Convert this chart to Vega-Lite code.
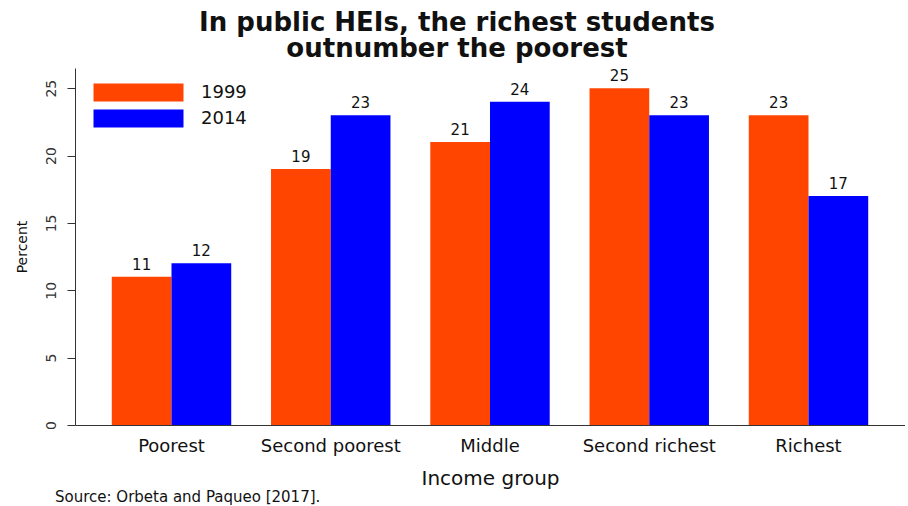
{
  "$schema": "https://vega.github.io/schema/vega-lite/v6.json",
  "background": "white",
  "padding": {"left": 15, "top": 10, "right": 0, "bottom": 2},
  "title": {"text": "Source: Orbeta and Paqueo [2017].", "orient": "bottom", "anchor": "start", "frame": "group", "fontSize": 15, "font": "DejaVu Sans", "fontWeight": "normal", "color": "#111", "offset": 2, "dx": -20},
  "vconcat": [
    {
      "width": 830,
      "height": 357,
      "title": {"text": ["In public HEIs, the richest students", "outnumber the poorest"], "fontSize": 26, "font": "DejaVu Sans", "fontWeight": "bold", "lineHeight": 26, "dx": -33, "offset": 6, "color": "#111"},
      "data": {"values": [
        {"group": "Poorest", "year": "1999", "percent": 11},
        {"group": "Poorest", "year": "2014", "percent": 12},
        {"group": "Second poorest", "year": "1999", "percent": 19},
        {"group": "Second poorest", "year": "2014", "percent": 23},
        {"group": "Middle", "year": "1999", "percent": 21},
        {"group": "Middle", "year": "2014", "percent": 24},
        {"group": "Second richest", "year": "1999", "percent": 25},
        {"group": "Second richest", "year": "2014", "percent": 23},
        {"group": "Richest", "year": "1999", "percent": 23},
        {"group": "Richest", "year": "2014", "percent": 17}
      ]},
      "encoding": {
        "x": {
          "field": "group", "type": "nominal",
          "sort": ["Poorest", "Second poorest", "Middle", "Second richest", "Richest"],
          "scale": {"paddingInner": 0.25, "paddingOuter": 0.231},
          "axis": {"title": "Income group", "labelAngle": 0, "ticks": false, "domainColor": "#333", "domainWidth": 1, "labelFont": "DejaVu Sans", "labelFontSize": 18, "labelColor": "#111", "labelPadding": 12, "titleFont": "DejaVu Sans", "titleFontSize": 20, "titleFontWeight": "normal", "titleColor": "#111", "titlePadding": 13}
        },
        "xOffset": {"field": "year", "type": "nominal", "sort": ["1999", "2014"]},
        "y": {
          "field": "percent", "type": "quantitative",
          "scale": {"domain": [0, 26.5], "nice": false},
          "axis": {"title": "Percent", "values": [0, 5, 10, 15, 20, 25], "grid": false, "labelAngle": -90, "labelFont": "DejaVu Sans", "labelFontSize": 14, "labelColor": "#333", "labelPadding": 9, "tickSize": 8, "tickColor": "#333", "domainColor": "#333", "titleFont": "DejaVu Sans", "titleFontSize": 14, "titleFontWeight": "normal", "titleColor": "#111", "titlePadding": 15}
        }
      },
      "layer": [
        {
          "mark": {"type": "bar"},
          "encoding": {
            "color": {
              "field": "year", "type": "nominal",
              "scale": {"domain": ["1999", "2014"], "range": ["#FF4500", "#0000FF"]},
              "legend": {"title": null, "orient": "none", "legendX": 52, "legendY": 13, "symbolType": "M-4,-0.8H4V0.8H-4Z", "symbolSize": 506, "symbolStrokeWidth": 0, "symbolOpacity": 1, "labelFont": "DejaVu Sans", "labelFontSize": 18, "labelColor": "#111", "labelOffset": 51, "rowPadding": 5}
            }
          }
        },
        {
          "mark": {"type": "text", "baseline": "bottom", "dy": -4, "font": "DejaVu Sans", "fontSize": 15, "color": "#111"},
          "encoding": {"text": {"field": "percent", "type": "quantitative"}}
        }
      ]
    }
  ],
  "config": {"view": {"stroke": null}}
}
